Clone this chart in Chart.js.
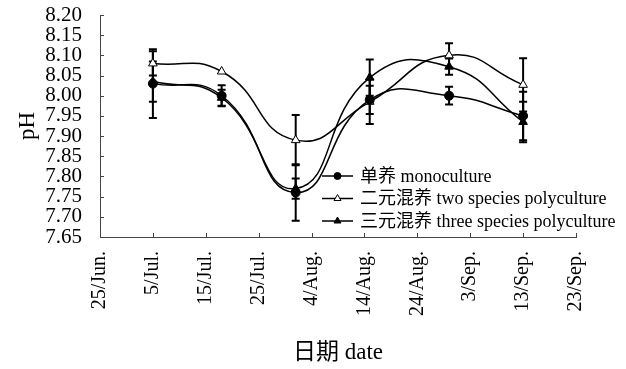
<!DOCTYPE html>
<html>
<head>
<meta charset="utf-8">
<script src="https://cdn.jsdelivr.net/npm/chart.js@4/dist/chart.umd.min.js"></script>
<style>
  html, body { margin: 0; padding: 0; background: #fff; }
  canvas { display: block; }
</style>
</head>
<body>
<canvas id="chart" width="626" height="369"></canvas>
<script>
// Axis tick labels: one date label every 10 days starting 25 June
const dateLabels = ['25/Jun.', '5/Jul.', '15/Jul.', '25/Jul.', '4/Aug.', '14/Aug.', '24/Aug.', '3/Sep.', '13/Sep.', '23/Sep.'];
const phTicks = [7.65, 7.70, 7.75, 7.80, 7.85, 7.90, 7.95, 8.00, 8.05, 8.10, 8.15, 8.20];

// Sampling days, counted from 25 June
const sampleDays = [10, 23, 37, 51, 66, 80];

const seriesNames = ['单养 monoculture', '二元混养 two species polyculture', '三元混养 three species polyculture'];

// Mean pH and standard deviation for each culture mode
const monoPH = [8.03, 8.00, 7.76, 7.99, 8.00, 7.95];
const monoSD = [0.085, 0.026, 0.07, 0.035, 0.022, 0.06];
const twoPH = [8.08, 8.06, 7.89, 7.985, 8.10, 8.027];
const twoSD = [0.03, 0, 0.062, 0.055, 0.03, 0.066];
const threePH = [8.035, 7.995, 7.77, 8.045, 8.072, 7.935];
const threeSD = [0.05, 0.02, 0.025, 0.045, 0.02, 0.05];

const FONT = "'Liberation Serif', 'Times New Roman', 'Noto Sans CJK SC', serif";

function toPoints(values) {
  return values.map((v, i) => ({ x: sampleDays[i], y: v }));
}

const errors = [monoSD, twoSD, threeSD];

// Vertical error bars with caps, drawn beneath the markers
const errorBarPlugin = {
  id: 'errorBars',
  beforeDatasetsDraw(chart) {
    const { ctx, scales: { x, y } } = chart;
    ctx.save();
    ctx.strokeStyle = '#000';
    ctx.lineWidth = 2;
    chart.data.datasets.forEach((ds, di) => {
      ds.data.forEach((p, i) => {
        const e = errors[di][i];
        if (!e) return;
        const px = x.getPixelForValue(p.x);
        const top = y.getPixelForValue(p.y + e);
        const bot = y.getPixelForValue(p.y - e);
        ctx.beginPath();
        ctx.moveTo(px, top); ctx.lineTo(px, bot);
        ctx.moveTo(px - 4, top); ctx.lineTo(px + 4, top);
        ctx.moveTo(px - 4, bot); ctx.lineTo(px + 4, bot);
        ctx.stroke();
      });
    });
    ctx.restore();
  }
};

// Short tick marks pointing into the plot area
const innerTicksPlugin = {
  id: 'innerTicks',
  afterDraw(chart) {
    const { ctx, chartArea, scales: { x, y } } = chart;
    ctx.save();
    ctx.strokeStyle = '#444';
    ctx.lineWidth = 1;
    ctx.beginPath();
    x.ticks.forEach(t => {
      const px = Math.round(x.getPixelForValue(t.value)) + 0.5;
      ctx.moveTo(px, chartArea.bottom);
      ctx.lineTo(px, chartArea.bottom - 4);
    });
    y.ticks.forEach(t => {
      const py = Math.round(y.getPixelForValue(t.value)) + 0.5;
      ctx.moveTo(chartArea.left, py);
      ctx.lineTo(chartArea.left + 4, py);
    });
    ctx.stroke();
    ctx.restore();
  }
};

// Legend placed inside the lower right of the plot
const inlineLegendPlugin = {
  id: 'inlineLegend',
  afterDraw(chart) {
    const { ctx, chartArea } = chart;
    const x0 = chartArea.left + 222;
    const rows = [chartArea.top + 161, chartArea.top + 183.5, chartArea.top + 206];
    ctx.save();
    chart.data.datasets.forEach((ds, i) => {
      const yy = rows[i];
      ctx.strokeStyle = '#000';
      ctx.lineWidth = 1.5;
      ctx.beginPath();
      ctx.moveTo(x0, yy);
      ctx.lineTo(x0 + 31, yy);
      ctx.stroke();
      ctx.fillStyle = ds.pointBackgroundColor;
      ctx.strokeStyle = '#000';
      ctx.lineWidth = 1;
      Chart.helpers.drawPoint(ctx, { pointStyle: ds.pointStyle, radius: ds.pointStyle === 'circle' ? 3.5 : 4, rotation: 0, borderWidth: 1 }, x0 + 15.5, yy);
      ctx.fillStyle = '#000';
      ctx.font = '18px ' + FONT;
      ctx.textBaseline = 'middle';
      ctx.textAlign = 'left';
      ctx.fillText(ds.label, x0 + 38, yy + 1);
    });
    ctx.restore();
  }
};

const baseDataset = {
  borderColor: '#000',
  borderWidth: 1.5,
  tension: 0.5,
  fill: false,
  pointBorderColor: '#000',
  pointBorderWidth: 1,
};

new Chart(document.getElementById('chart'), {
  type: 'line',
  data: {
    datasets: [
      Object.assign({}, baseDataset, {
        label: seriesNames[0], data: toPoints(monoPH),
        pointStyle: 'circle', pointRadius: 4.5, pointBackgroundColor: '#000'
      }),
      Object.assign({}, baseDataset, {
        label: seriesNames[1], data: toPoints(twoPH),
        pointStyle: 'triangle', pointRadius: 5, pointBackgroundColor: '#fff'
      }),
      Object.assign({}, baseDataset, {
        label: seriesNames[2], data: toPoints(threePH),
        pointStyle: 'triangle', pointRadius: 5, pointBackgroundColor: '#000'
      })
    ]
  },
  options: {
    responsive: false,
    animation: false,
    devicePixelRatio: 1,
    layout: { padding: { left: 0, right: 50, top: 15, bottom: 0 } },
    plugins: { legend: { display: false }, tooltip: { enabled: false } },
    scales: {
      x: {
        type: 'linear',
        min: 0,
        max: 90,
        afterBuildTicks: s => { s.ticks = dateLabels.map((_, i) => ({ value: i * 10 })); },
        afterFit: s => { s.height = 132; s.paddingLeft = 0; s.paddingRight = 0; },
        ticks: {
          callback: v => dateLabels[Math.round(v / 10)],
          minRotation: 90, maxRotation: 90, autoSkip: false,
          padding: 14, color: '#000',
          font: { family: FONT, size: 20 }
        },
        grid: { display: false, drawTicks: false },
        border: { display: true, color: '#444', width: 1 },
        title: {
          display: true, text: '日期 date', color: '#000',
          font: { family: FONT, size: 23 }, padding: { top: 0, bottom: 2 }
        }
      },
      y: {
        min: 7.65,
        max: 8.20,
        afterBuildTicks: s => { s.ticks = phTicks.map(v => ({ value: v })); },
        afterFit: s => { s.width = 100; s.paddingTop = 0; s.paddingBottom = 0; },
        ticks: {
          callback: v => Number(v).toFixed(2),
          autoSkip: false,
          padding: 18, color: '#000',
          font: { family: FONT, size: 21 }
        },
        grid: { display: false, drawTicks: false },
        border: { display: true, color: '#444', width: 1 },
        title: {
          display: true, text: 'pH', color: '#000',
          font: { family: FONT, size: 23 }, padding: { top: 14, bottom: 0 }
        }
      }
    }
  },
  plugins: [errorBarPlugin, innerTicksPlugin, inlineLegendPlugin]
});
</script>
</body>
</html>
